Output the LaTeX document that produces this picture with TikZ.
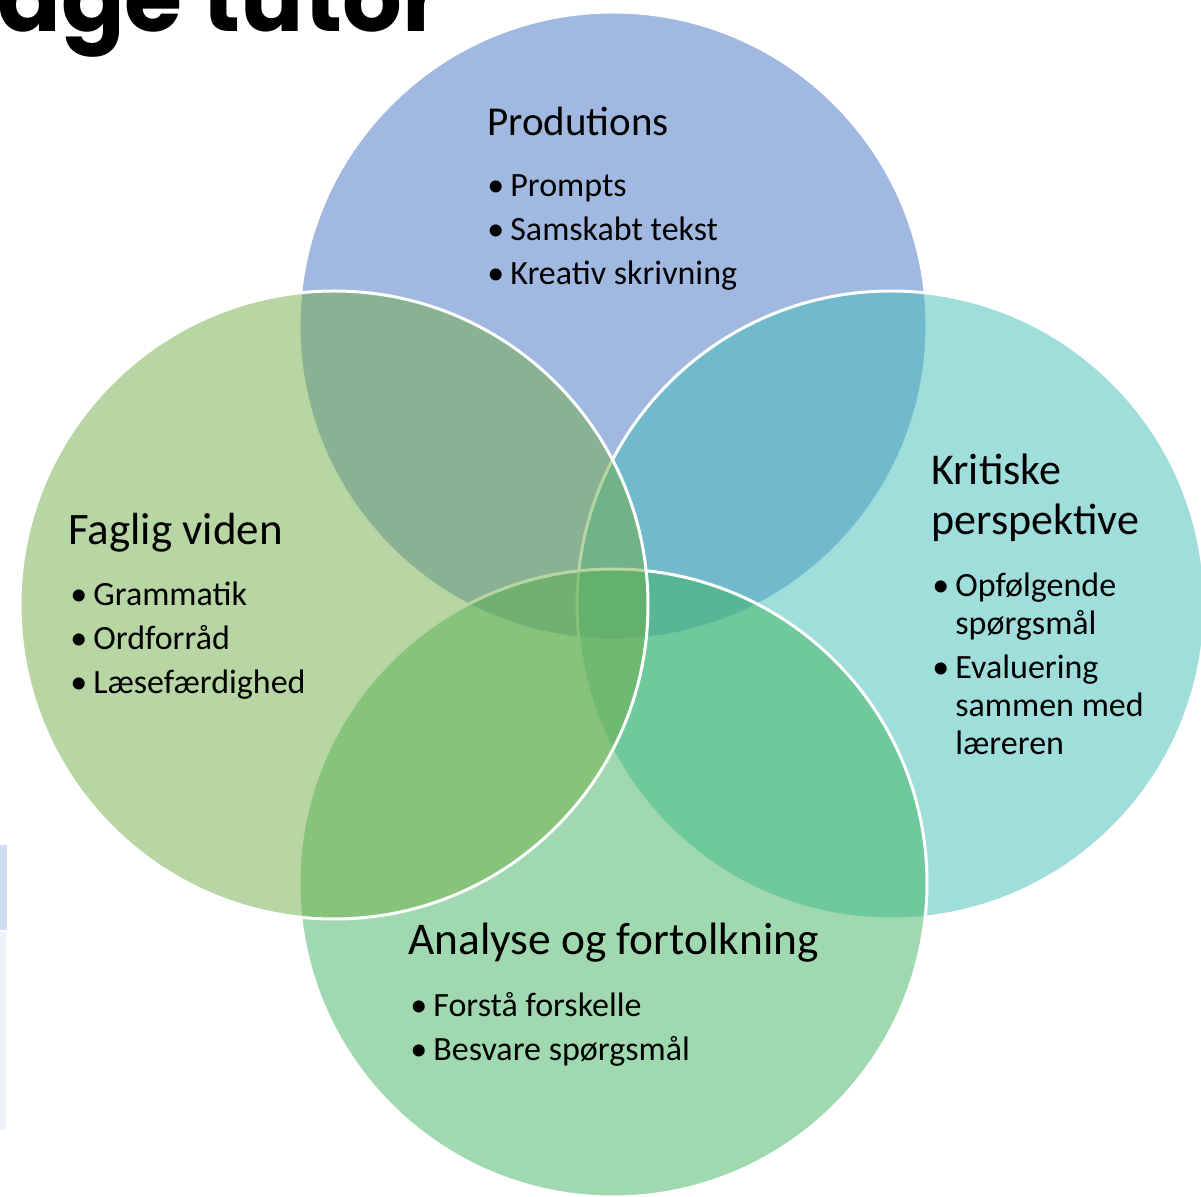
\documentclass[tikz,border=0pt]{standalone}
\usepackage{fontspec}
\setmainfont{Carlito}
\newfontfamily\slidefont{Poppins}
\usetikzlibrary{positioning}

\definecolor{prodblue}{RGB}{68,114,196}
\definecolor{kritteal}{RGB}{65,189,183}
\definecolor{analgreen}{RGB}{65,179,97}
\definecolor{fagliggreen}{RGB}{112,173,71}
\definecolor{barblue}{RGB}{208,220,240}
\definecolor{barpale}{RGB}{238,242,250}

\newcommand\bul{\makebox[11.5pt][l]{\textbullet}}
\newcommand\hang{\hspace*{11.5pt}}

\begin{document}
\begin{tikzpicture}[x=0.5pt,y=-0.5pt,
  venn/.style={circle,minimum size=314pt,inner sep=0pt,fill opacity=0.5,draw=white,line width=1.5pt},
  ttl/.style={anchor=base west,inner sep=0pt},
  lst/.style={anchor=base west,inner sep=0pt,font=\fontsize{17}{22}\selectfont}]
  \clip (0,0) rectangle (1201,1197);
  \useasboundingbox (0,0) rectangle (1201,1197);

  % slide behind the diagram
  \node[anchor=base east,inner sep=0pt,font=\slidefont\bfseries\fontsize{47}{52}\selectfont] (deck) at (443,32) {Language tutor};
  \fill[barblue] (0,845) rectangle (7,930);
  \fill[barpale] (0,932) rectangle (6,1130);

  % the four circles
  \node[venn,fill=prodblue]    (prod)  at (613,326) {};
  \node[venn,fill=kritteal]    (krit)  at (891,605) {};
  \node[venn,fill=analgreen]   (anal)  at (613,883) {};
  \node[venn,fill=fagliggreen] (faglig) at (334,605) {};

  % texts
  \node[ttl,font=\fontsize{20.5}{25}\selectfont] (prodTitle) at (487,136) {Produtions};
  \node[lst] (prodList) at (487,197)
    {\begin{tabular}[t]{@{}l@{}}\bul Prompts\\ \bul Samskabt tekst\\ \bul Kreativ skrivning\end{tabular}};

  \node[ttl,font=\fontsize{22}{25}\selectfont] (kritTitle) at (931,485)
    {\begin{tabular}[t]{@{}l@{}}Kritiske\\perspektive\end{tabular}};
  \node[lst,font=\fontsize{17}{19}\selectfont] (kritList) at (932,597)
    {\begin{tabular}[t]{@{}l@{}}\bul Opfølgende\\ \hang spørgsmål\\[3pt] \bul Evaluering\\ \hang sammen med\\ \hang læreren\end{tabular}};

  \node[ttl,font=\fontsize{22.5}{25}\selectfont] (fagligTitle) at (68,545) {Faglig viden};
  \node[lst] (fagligList) at (70,606)
    {\begin{tabular}[t]{@{}l@{}}\bul Grammatik\\ \bul Ordforråd\\ \bul Læsefærdighed\end{tabular}};

  \node[ttl,font=\fontsize{22.7}{25}\selectfont] (analTitle) at (408,955) {Analyse og fortolkning};
  \node[lst] (analList) at (410,1017)
    {\begin{tabular}[t]{@{}l@{}}\bul Forstå forskelle\\ \bul Besvare spørgsmål\end{tabular}};
\end{tikzpicture}
\end{document}
